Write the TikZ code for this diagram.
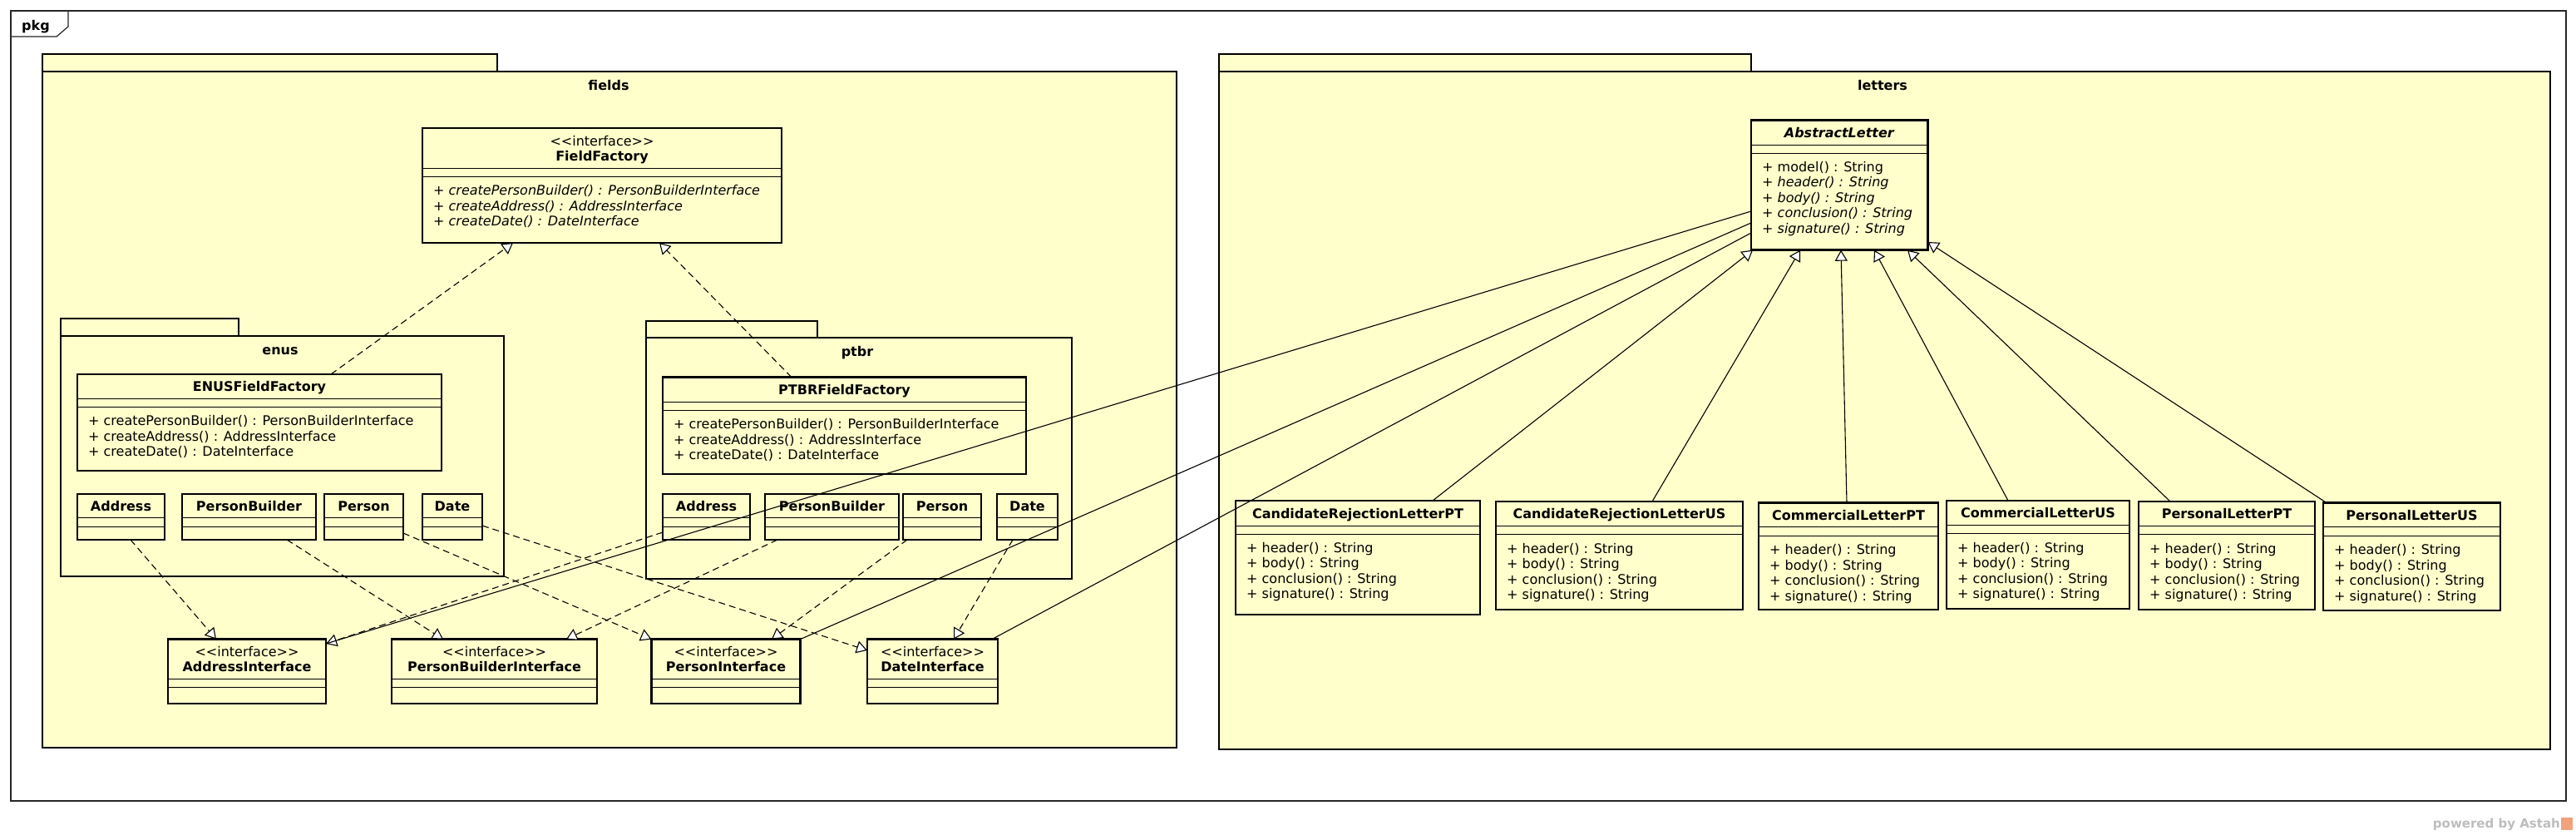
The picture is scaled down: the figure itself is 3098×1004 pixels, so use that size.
\documentclass[tikz,border=0pt]{standalone}
\usepackage{fontspec}
\setmainfont{DejaVu Sans}[Ligatures=TeXOff]
\usetikzlibrary{arrows.meta}

\definecolor{umlfill}{HTML}{FFFFCC}
\definecolor{astahgray}{HTML}{BDBDBD}
\definecolor{astahorange}{HTML}{F2A27A}

\tikzset{
  classbox/.style={draw, line width=2.6pt, fill=umlfill, anchor=north west, inner sep=0, outer sep=0},
  divider/.style={line width=1pt},
  classtitle/.style={anchor=south, inner sep=0, text depth=0pt, align=center, font=\bfseries},
  classop/.style={anchor=base west, inner sep=0},
  pkgbox/.style={draw, line width=2.6pt, fill=umlfill},
  pkglabel/.style={anchor=base, inner sep=0, font=\bfseries},
  realize/.style={line width=1.1pt, dash pattern=on 8pt off 5pt, -{Triangle[fill=white, length=13pt, width=15pt]}},
  generalize/.style={line width=1.1pt, -{Triangle[fill=white, length=13pt, width=15pt]}},
  assoc/.style={line width=1.1pt},
}

% class box: name, top left, width, height, height of name part, title
\newcommand{\umlclass}[6]{%
  \node[classbox, minimum width=#3, minimum height=#4] (#1) at (#2) {};
  \draw[divider] ([yshift=-#5]#1.north west) -- ([yshift=-#5]#1.north east);
  \draw[divider] ([yshift=-#5-10.5]#1.north west) -- ([yshift=-#5-10.5]#1.north east);
  \node[classtitle] (#1-title) at ([yshift=-#5+8]#1.north) {#6};
}
% operations: name, first baseline below top, list
\newcommand{\umlops}[3]{%
  \foreach \op [count=\k] in {#3}
    \node[classop] (#1-op\k) at ([xshift=13, yshift={-#2-(\k-1)*18.6}]#1.north west) {\op};
}

\begin{document}
\begin{tikzpicture}[x=1pt, y=-1pt]
  \fontsize{16}{18.5}\selectfont
  \useasboundingbox (0,0) rectangle (3098,1004);
  \fill[white] (0,0) rectangle (3098,1004);

  % Frame
  \draw[line width=1.2pt, black!85] (13,13) rectangle (3086,963);
  \draw[line width=1.2pt, black!85] (13,44) -- (68,44) -- (82,32) -- (82,13);
  \node[pkglabel] (pkgLabel) at (43,36) {pkg};

  % Package fields
  \draw[pkgbox] (51,65) rectangle (598,86);
  \draw[pkgbox] (51,86) rectangle (1415,899);
  \node[pkglabel] (fieldsLabel) at (732,108) {fields};

  \umlclass{fieldFactory}{508,154}{432}{138}{48}{{\mdseries <<interface>>}\\FieldFactory}
  \umlops{fieldFactory}{80.5}{\textit{+ createPersonBuilder() : PersonBuilderInterface}, \textit{+ createAddress() : AddressInterface}, \textit{+ createDate() : DateInterface}}

  % Package enus
  \draw[pkgbox] (73,383) rectangle (287,404);
  \draw[pkgbox] (73,404) rectangle (606,693);
  \node[pkglabel] (enusLabel) at (337,426) {enus};

  \umlclass{enusFactory}{93,450}{438}{116}{29}{ENUSFieldFactory}
  \umlops{enusFactory}{61.5}{+ createPersonBuilder() : PersonBuilderInterface, + createAddress() : AddressInterface, + createDate() : DateInterface}
  \umlclass{enusAddress}{93,594}{105}{55}{28.5}{Address}
  \umlclass{enusBuilder}{219,594}{161}{55}{28.5}{PersonBuilder}
  \umlclass{enusPerson}{390,594}{95}{55}{28.5}{Person}
  \umlclass{enusDate}{508,594}{72}{55}{28.5}{Date}

  % Package ptbr
  \draw[pkgbox] (777,386) rectangle (983,406);
  \draw[pkgbox] (777,406) rectangle (1289,696);
  \node[pkglabel] (ptbrLabel) at (1031,428) {ptbr};

  \umlclass{ptbrFactory}{797,453.6}{437}{116.4}{29.4}{PTBRFieldFactory}
  \umlops{ptbrFactory}{61.9}{+ createPersonBuilder() : PersonBuilderInterface, + createAddress() : AddressInterface, + createDate() : DateInterface}
  \umlclass{ptbrAddress}{797,594}{105}{55}{28.5}{Address}
  \umlclass{ptbrBuilder}{920,594}{161}{55}{28.5}{PersonBuilder}
  \umlclass{ptbrPerson}{1086,594}{94}{55}{28.5}{Person}
  \umlclass{ptbrDate}{1199,594}{73}{55}{28.5}{Date}

  % Interfaces
  \umlclass{addressIface}{202,768.6}{190}{77.4}{47.4}{{\mdseries <<interface>>}\\AddressInterface}
  \umlclass{builderIface}{471,768.6}{247}{77.4}{47.4}{{\mdseries <<interface>>}\\PersonBuilderInterface}
  \umlclass{personIface}{783.5,768.6}{179}{77.4}{47.4}{{\mdseries <<interface>>}\\PersonInterface}
  \umlclass{dateIface}{1043,768.6}{157}{77.4}{47.4}{{\mdseries <<interface>>}\\DateInterface}

  % Package letters
  \draw[pkgbox] (1466,65) rectangle (2106,86);
  \draw[pkgbox] (1466,86) rectangle (3067,901);
  \node[pkglabel] (lettersLabel) at (2264,108) {letters};

  \umlclass{abstractLetter}{2106,144.7}{212.5}{156}{29.3}{\textit{AbstractLetter}}
  \umlops{abstractLetter}{61.3}{+ model() : String, \textit{+ header() : String}, \textit{+ body() : String}, \textit{+ conclusion() : String}, \textit{+ signature() : String}}

  \umlclass{crlPT}{1486,602}{294}{137}{30}{CandidateRejectionLetterPT}
  \umlclass{crlUS}{1799,603}{297}{130}{29}{CandidateRejectionLetterUS}
  \umlclass{clPT}{2115,604.6}{216}{128.4}{29}{CommercialLetterPT}
  \umlclass{clUS}{2341,602}{220}{130}{29}{CommercialLetterUS}
  \umlclass{plPT}{2572,603}{212}{130}{29}{PersonalLetterPT}
  \umlclass{plUS}{2794,604.6}{213}{129.4}{29}{PersonalLetterUS}
  \foreach \cls in {crlPT, crlUS, clPT, clUS, plPT, plUS}
    \umlops{\cls}{62}{+ header() : String, + body() : String, + conclusion() : String, + signature() : String};

  % Realizations of FieldFactory
  \draw[realize] ([xshift=305]enusFactory.north west) -- ([xshift=109]fieldFactory.south west);
  \draw[realize] ([xshift=155]ptbrFactory.north west) -- ([xshift=285]fieldFactory.south west);

  % Realizations of the interfaces
  \draw[realize] ([xshift=64]enusAddress.south west) -- ([xshift=58]addressIface.north west);
  \draw[realize] ([xshift=126]enusBuilder.south west) -- ([xshift=62]builderIface.north west);
  \draw[realize] ([yshift=8]enusPerson.south east) -- (personIface.north west);
  \draw[realize] ([yshift=17]enusDate.south east) -- ([yshift=-13.4]dateIface.north west);
  \draw[realize] ([yshift=9]ptbrAddress.south west) -- ([yshift=-5.4]addressIface.north east);
  \draw[realize] ([xshift=15]ptbrBuilder.south west) -- ([xshift=210]builderIface.north west);
  \draw[realize] ([xshift=5]ptbrPerson.south west) -- ([xshift=144.5]personIface.north west);
  \draw[realize] ([xshift=19]ptbrDate.south west) -- ([xshift=104]dateIface.north west);

  % Associations from AbstractLetter
  \draw[assoc] ([yshift=-109.3]abstractLetter.north west) -- ([yshift=-5.4]addressIface.north east);
  \draw[assoc] ([yshift=-123.3]abstractLetter.north west) -- (personIface.north east);
  \draw[assoc] ([yshift=-135.3]abstractLetter.north west) -- ([xshift=-7]dateIface.north east);

  % Generalizations
  \draw[generalize] ([xshift=237]crlPT.north west) -- ([xshift=2]abstractLetter.south west);
  \draw[generalize] ([xshift=188]crlUS.north west) -- ([xshift=59]abstractLetter.south west);
  \draw[generalize] ([xshift=106]clPT.north west) -- ([xshift=108]abstractLetter.south west);
  \draw[generalize] ([xshift=74]clUS.north west) -- ([xshift=148]abstractLetter.south west);
  \draw[generalize] ([xshift=38]plPT.north west) -- ([xshift=188]abstractLetter.south west);
  \draw[generalize] ([xshift=4]plUS.north west) -- ([yshift=9.7]abstractLetter.south east);

  % Watermark
  \node[anchor=base east, inner sep=0, text=astahgray, font=\bfseries\fontsize{15}{16}\selectfont] (watermark) at (3079,995) {powered by Astah};
  \fill[astahorange] (3080,983) rectangle (3094,998);
\end{tikzpicture}
\end{document}
